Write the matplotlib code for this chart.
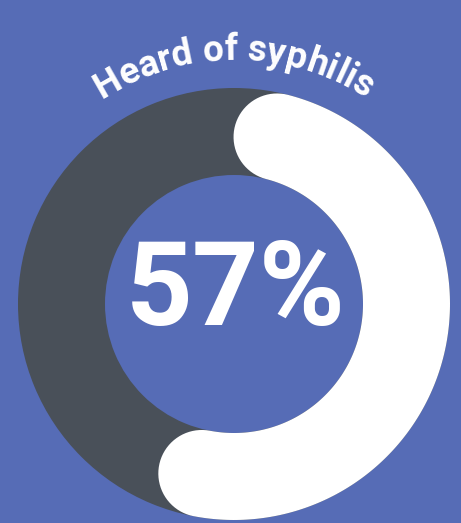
import numpy as np
import matplotlib
matplotlib.use('Agg')
import matplotlib.pyplot as plt
from matplotlib.patches import Wedge, Polygon

title = 'Heard of syphilis'
share = 57  # percent

bg = '#566CB6'
track = '#495059'
fill = 'white'

W, H = 461, 523
fig = plt.figure(figsize=(W / 100, H / 100), dpi=100)
fig.patch.set_facecolor(bg)
ax = fig.add_axes([0, 0, 1, 1])
ax.set_xlim(0, W)
ax.set_ylim(H, 0)
ax.set_aspect('equal')
ax.axis('off')

cx, cy = 234, 304
r_out, r_in = 216, 129
r_mid = (r_out + r_in) / 2
half = (r_out - r_in) / 2

# grey track
ax.add_patch(Wedge((cx, cy), r_out, 0, 360, width=r_out - r_in, color=track, lw=0))


def pt(r, a):
    # a: clockwise from top, radians
    return cx + r * np.sin(a), cy - r * np.cos(a)


# white arc with rounded ends that stay inside the angular span
a0 = 0.0
a1 = share / 100 * 2 * np.pi
d = half / r_mid
b0, b1 = a0 + d, a1 - d
t = np.linspace(b0, b1, 200)
pts = [pt(r_out, a) for a in t]
# end cap
cxe, cye = pt(r_mid, b1)
nx, ny = np.sin(b1), -np.cos(b1)
tx, ty = np.cos(b1), np.sin(b1)
for s in np.linspace(0, np.pi, 40):
    pts.append((cxe + half * (nx * np.cos(s) + tx * np.sin(s)),
                cye + half * (ny * np.cos(s) + ty * np.sin(s))))
pts += [pt(r_in, a) for a in t[::-1]]
# start cap
cxs, cys = pt(r_mid, b0)
nx, ny = -np.sin(b0), np.cos(b0)
tx, ty = -np.cos(b0), -np.sin(b0)
for s in np.linspace(0, np.pi, 40):
    pts.append((cxs + half * (nx * np.cos(s) + tx * np.sin(s)),
                cys + half * (ny * np.cos(s) + ty * np.sin(s))))
ax.add_patch(Polygon(pts, closed=True, color=fill, lw=0))

# centre label
ax.text(cx + 2, cy - 11, f'{share}%', color='white', fontsize=84, fontweight='bold',
        family='Roboto', ha='center', va='center')

# curved title
fs = 26.5
r_txt = 244
renderer = fig.canvas.get_renderer()
props = dict(fontsize=fs, fontweight='bold', family='Roboto')


def width(s):
    if not s:
        return 0
    tt = ax.text(0, 0, s, **props)
    w = tt.get_window_extent(renderer).width
    tt.remove()
    return w


total = width(title)
for i, ch in enumerate(title):
    w0 = width(title[:i])
    mid = w0 + (width(title[:i + 1]) - w0) / 2
    a = (mid - total / 2) / r_txt
    x, y = pt(r_txt, a)
    ax.text(x, y, ch, color='white', rotation=-np.degrees(a), rotation_mode='anchor',
            ha='center', va='baseline', **props)

fig.savefig('out.png', dpi=100, facecolor=bg)
